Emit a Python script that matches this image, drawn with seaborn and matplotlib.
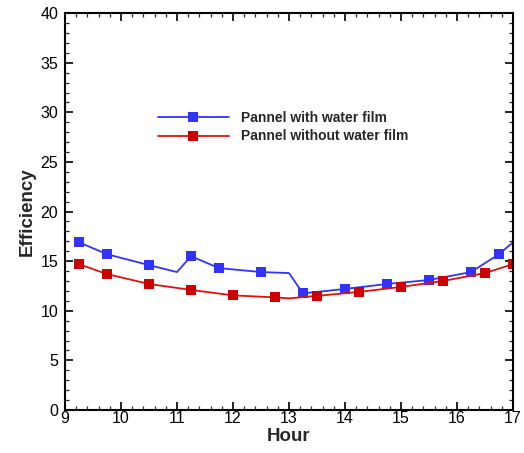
import matplotlib
matplotlib.use("Agg")
import matplotlib.pyplot as plt
import seaborn as sns
import pandas as pd
from matplotlib.ticker import MultipleLocator

# Data
blue_hours = [9.25, 9.75, 10.5, 11.0, 11.25, 11.75, 12.5, 13.0, 13.25, 14.0, 14.75, 15.5, 16.25, 16.75, 17.0]
blue_values = [16.9, 15.7, 14.6, 13.9, 15.5, 14.3, 13.9, 13.8, 11.75, 12.2, 12.7, 13.1, 13.9, 15.7, 16.9]
blue_marked = [0, 1, 2, 4, 5, 6, 8, 9, 10, 11, 12, 13]

red_hours = [9.25, 9.75, 10.5, 11.25, 12.0, 12.75, 13.0, 13.5, 14.25, 15.0, 15.75, 16.5, 17.0]
red_values = [14.7, 13.7, 12.7, 12.1, 11.55, 11.35, 11.25, 11.5, 11.9, 12.4, 13.0, 13.8, 14.7]
red_marked = [0, 1, 2, 3, 4, 5, 7, 8, 9, 10, 11, 12]

labels = ["Pannel with water film", "Pannel without water film"]
x_ticks = [9, 10, 11, 12, 13, 14, 15, 16, 17]
y_ticks = [0, 5, 10, 15, 20, 25, 30, 35, 40]

sns.set_style("white")
plt.rcParams['font.family'] = ['Liberation Sans', 'DejaVu Sans']

fig = plt.figure(figsize=(5.24, 4.53), dpi=100)
ax = fig.add_axes([0.124, 0.095, 0.855, 0.876])

df_b = pd.DataFrame({"Hour": blue_hours, "Efficiency": blue_values})
df_r = pd.DataFrame({"Hour": red_hours, "Efficiency": red_values})

sns.lineplot(data=df_b, x="Hour", y="Efficiency", ax=ax, sort=False, color="#3333FF",
             marker="s", markersize=6.5, markeredgewidth=0, markevery=blue_marked,
             linewidth=1.3, label=labels[0])
sns.lineplot(data=df_r, x="Hour", y="Efficiency", ax=ax, sort=False, color="#E01010",
             marker="s", markersize=6.5, markeredgewidth=0, markevery=red_marked,
             markerfacecolor="#CC0000", linewidth=1.3, label=labels[1])

ax.set_xlim(9, 17)
ax.set_ylim(0, 40)
ax.set_xticks(x_ticks)
ax.set_yticks(y_ticks)
ax.xaxis.set_minor_locator(MultipleLocator(0.2))
ax.yaxis.set_minor_locator(MultipleLocator(1))
ax.tick_params(which="major", direction="in", length=6, width=1.2, labelsize=11.5,
               top=True, right=True, bottom=True, left=True, colors="black")
ax.tick_params(axis="x", which="major", pad=1)
ax.tick_params(axis="y", which="major", pad=5)
ax.tick_params(which="minor", direction="in", length=3, width=0.9,
               top=True, right=True, bottom=True, left=True)
for s in ax.spines.values():
    s.set_color("black")
    s.set_linewidth(1.5)

ax.set_xlabel("Hour", fontsize=13.5, fontweight="bold", labelpad=1)
ax.set_ylabel("Efficiency", fontsize=13.5, fontweight="bold", labelpad=3)

leg = ax.legend(loc="upper left", bbox_to_anchor=(0.3015, 0.756), bbox_transform=fig.transFigure,
                frameon=False, borderaxespad=0, borderpad=0, handlelength=5.1,
                handletextpad=0.9, labelspacing=0.35, prop={"weight": "bold", "size": 10})

fig.savefig("out.png", dpi=100, facecolor="white")
